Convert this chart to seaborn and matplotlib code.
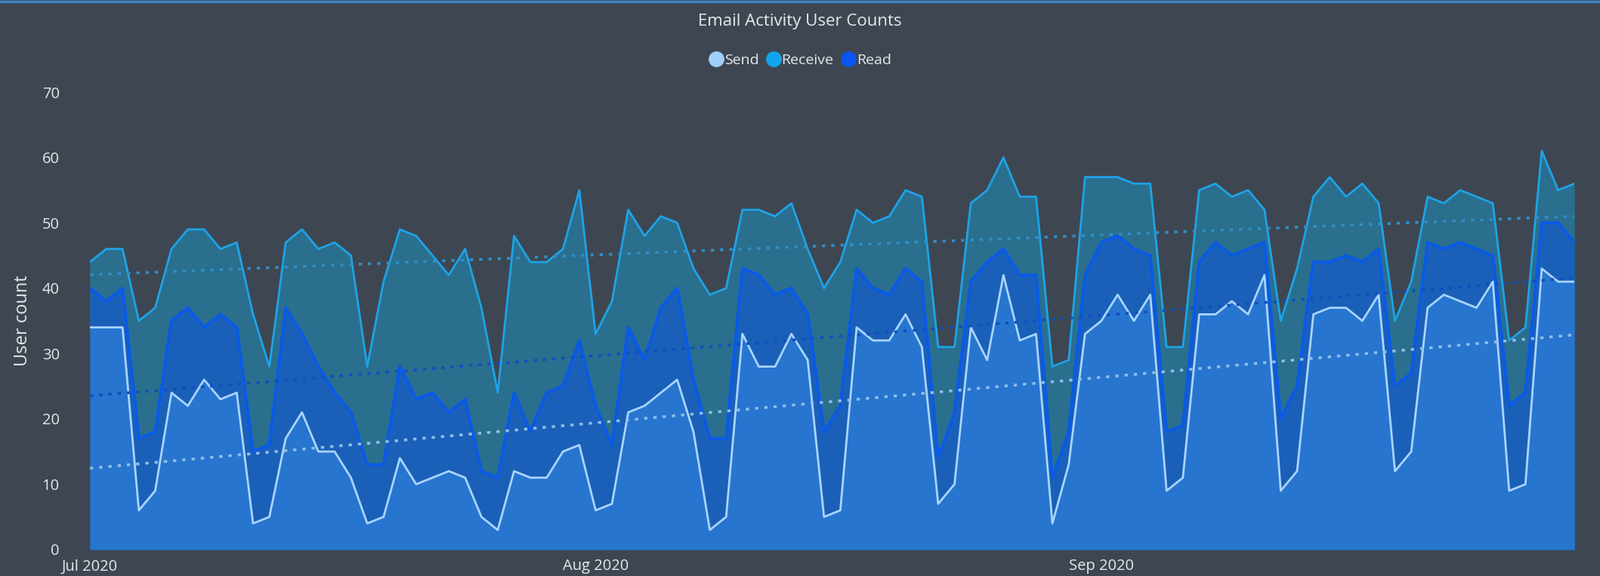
import numpy as np
import pandas as pd
import matplotlib
matplotlib.use("Agg")
import matplotlib.pyplot as plt
import matplotlib.dates as mdates
from matplotlib.lines import Line2D
import seaborn as sns

# ---- data ----
start_date = "2020-07-01"
end_date = "2020-09-30"
receive = [44, 46, 46, 35, 37, 46, 49, 49, 46, 47, 36, 28, 47, 49, 46, 47, 45, 28, 41, 49,
           48, 45, 42, 46, 37, 24, 48, 44, 44, 46, 55, 33, 38, 52, 48, 51, 50, 43, 39, 40,
           52, 52, 51, 53, 46, 40, 44, 52, 50, 51, 55, 54, 31, 31, 53, 55, 60, 54, 54, 28,
           29, 57, 57, 57, 56, 56, 31, 31, 55, 56, 54, 55, 52, 35, 43, 54, 57, 54, 56, 53,
           35, 41, 54, 53, 55, 54, 53, 32, 34, 61, 55, 56]
read = [40, 38, 40, 17, 18, 35, 37, 34, 36, 34, 15, 16, 37, 33, 28, 24, 21, 13, 13, 28,
        23, 24, 21, 23, 12, 11, 24, 18, 24, 25, 32, 22, 16, 34, 29, 37, 40, 26, 17, 17,
        43, 42, 39, 40, 36, 18, 22, 43, 40, 39, 43, 41, 14, 21, 41, 44, 46, 42, 42, 11,
        18, 42, 47, 48, 46, 45, 18, 19, 44, 47, 45, 46, 47, 20, 25, 44, 44, 45, 44, 46,
        25, 27, 47, 46, 47, 46, 45, 22, 24, 50, 50, 47]
send = [34, 34, 34, 6, 9, 24, 22, 26, 23, 24, 4, 5, 17, 21, 15, 15, 11, 4, 5, 14,
        10, 11, 12, 11, 5, 3, 12, 11, 11, 15, 16, 6, 7, 21, 22, 24, 26, 18, 3, 5,
        33, 28, 28, 33, 29, 5, 6, 34, 32, 32, 36, 31, 7, 10, 34, 29, 42, 32, 33, 4,
        13, 33, 35, 39, 35, 39, 9, 11, 36, 36, 38, 36, 42, 9, 12, 36, 37, 37, 35, 39,
        12, 15, 37, 39, 38, 37, 41, 9, 10, 43, 41, 41]
series_names = ["Send", "Receive", "Read"]
tick_dates = ["2020-07-01", "2020-08-01", "2020-09-01"]
tick_labels = ["Jul 2020", "Aug 2020", "Sep 2020"]
y_ticks = [0, 10, 20, 30, 40, 50, 60, 70]

dates = pd.date_range(start_date, end_date, freq="D")
df = pd.DataFrame({"date": dates, "Receive": receive, "Read": read, "Send": send})

# ---- style ----
BG = "#3e4751"
TXT = "#e6e8ea"
sns.set_theme(style="dark")
plt.rcParams["font.family"] = ["Open Sans", "DejaVu Sans"]

fig = plt.figure(figsize=(21.18, 7.63), dpi=100, facecolor=BG)
ax = fig.add_axes([0.0562, 0.0459, 0.9278, 0.7941])
ax.set_facecolor(BG)

xnum = mdates.date2num(df["date"])

styles = {
    "Receive": dict(fill="#2a6f8e", line="#1ea3e8", lw=2.0, trend="#2f8fc8"),
    "Read": dict(fill="#1b60b8", line="#0a5ae6", lw=3.0, trend="#0f4fbf"),
    "Send": dict(fill="#2775cf", line="#a9d5ff", lw=2.0, trend="#8ebfe8"),
}

for name in ["Receive", "Read", "Send"]:
    st = styles[name]
    ax.fill_between(df["date"], 0, df[name], color=st["fill"], alpha=1.0, lw=0, zorder=1)
    sns.lineplot(data=df, x="date", y=name, ax=ax, color=st["line"], lw=st["lw"],
                 zorder=3, legend=False)

# trend lines (linear fit of each series)
for name in ["Receive", "Read", "Send"]:
    st = styles[name]
    k, b = np.polyfit(xnum, df[name].values, 1)
    trend = pd.DataFrame({"date": df["date"], "t": k * xnum + b})
    sns.lineplot(data=trend, x="date", y="t", ax=ax, color=st["trend"], lw=2.6,
                 linestyle=(0, (1.2, 2.2)), zorder=4, legend=False)

ax.set_xlim(df["date"].iloc[0], df["date"].iloc[-1])
ax.set_ylim(0, 70)
ax.set_yticks(y_ticks)
ax.set_yticklabels([str(v) for v in y_ticks], color=TXT, fontsize=14.5)
ax.set_xticks(pd.to_datetime(tick_dates))
ax.set_xticklabels(tick_labels, color=TXT, fontsize=14.5)
ax.tick_params(axis="y", length=0, pad=29)
ax.tick_params(axis="x", length=0, pad=9)
ax.set_xlabel("")
ax.set_ylabel("User count", color=TXT, fontsize=17, labelpad=10)
ax.grid(False)
for s in ax.spines.values():
    s.set_visible(False)

fig.text(0.5, 0.963, "Email Activity User Counts", ha="center", va="center",
         color=TXT, fontsize=16)

legend_colors = {"Send": "#9fd0fb", "Receive": "#11a4ee", "Read": "#0a55f0"}
handles = [Line2D([0], [0], marker="o", linestyle="", markersize=14,
                  markerfacecolor=legend_colors[n], markeredgecolor=legend_colors[n])
           for n in series_names]
fig.legend(handles, series_names, loc="center", bbox_to_anchor=(0.5, 0.895),
           ncol=3, frameon=False, fontsize=14, labelcolor=TXT,
           handletextpad=0.05, columnspacing=0.5, handlelength=1.0)

# top border strip
fig.add_artist(Line2D([0, 1], [0.997, 0.997], transform=fig.transFigure,
                      color="#3d86c6", lw=2.5))

fig.savefig("out.png", dpi=100, facecolor=BG)
